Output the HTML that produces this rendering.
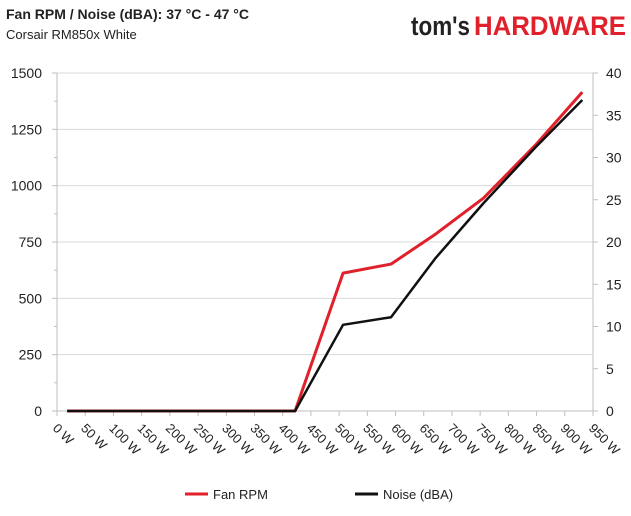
<!DOCTYPE html>
<html><head><meta charset="utf-8"><style>
body{margin:0;background:#fff;font-family:"Liberation Sans",sans-serif}
svg text{font-family:"Liberation Sans",sans-serif}
</style></head><body>
<svg id="c" width="631" height="511" xmlns="http://www.w3.org/2000/svg">
<text x="6" y="19" font-size="14" font-weight="bold" fill="#222">Fan RPM / Noise (dBA): 37 °C - 47 °C</text>
<text x="6" y="39" font-size="13" fill="#222">Corsair RM850x White</text>
<g><text x="411" y="35" font-size="27" font-weight="bold" fill="#222" textLength="59" lengthAdjust="spacingAndGlyphs">tom's</text><text x="474" y="35" font-size="27" font-weight="bold" fill="#e0202a" textLength="152" lengthAdjust="spacingAndGlyphs">HARDWARE</text></g>
<g id="grid"></g><g id="axes"></g><g id="series"></g>
<g>
<line x1="185" y1="494" x2="208" y2="494" stroke="#e0202a" stroke-width="3"/>
<text x="213" y="499" font-size="13" fill="#222">Fan RPM</text>
<line x1="355" y1="494" x2="378" y2="494" stroke="#111" stroke-width="3"/>
<text x="383" y="499" font-size="13" fill="#222">Noise (dBA)</text>
</g>
</svg>
<script>
const xTicks=[0,50,100,150,200,250,300,350,400,450,500,550,600,650,700,750,800,850,900,950];
const leftTicks=[0,250,500,750,1000,1250,1500];
const rightTicks=[0,5,10,15,20,25,30,35,40];
const loads=[18,422,507,592,671,756,848,931];
const fanRpm=[0,0,612,652,785,945,1180,1415];
const noise=[0,0,10.2,11.1,18.1,24.6,31.2,36.8];
const L=57,R=593,T=73,B=411;
const x=v=>L+(v/950)*(R-L);
const yl=v=>B-(v/1500)*(B-T);
const yr=v=>B-(v/40)*(B-T);
const NS="http://www.w3.org/2000/svg";
function mk(tag,attrs,parent){const e=document.createElementNS(NS,tag);for(const k in attrs)e.setAttribute(k,attrs[k]);document.getElementById(parent).appendChild(e);return e;}
leftTicks.forEach(v=>{
 if(v>0){const g=mk('line',{x1:L,x2:R,y1:yl(v),y2:yl(v),stroke:'#d9d9d9','stroke-width':1},'grid');
 
 }
 const t=mk('text',{x:L-15,y:yl(v)+5,'font-size':14,'text-anchor':'end',fill:'#222'},'axes');t.textContent=v;
 
 
 mk('line',{x1:L-5,x2:L,y1:yl(v),y2:yl(v),stroke:'#bfbfbf'},'axes');
 if(v<1500)mk('line',{x1:L-3,x2:L,y1:yl(v+125),y2:yl(v+125),stroke:'#bfbfbf'},'axes');
});
rightTicks.forEach(v=>{
 const t=mk('text',{x:R+13,y:yr(v)+5,'font-size':14,fill:'#222'},'axes');t.textContent=v;
 
 
 mk('line',{x1:R,x2:R+5,y1:yr(v),y2:yr(v),stroke:'#bfbfbf'},'axes');
});
mk('line',{x1:L,x2:L,y1:T,y2:B,stroke:'#bfbfbf'},'axes');
mk('line',{x1:R,x2:R,y1:T,y2:B,stroke:'#bfbfbf'},'axes');
mk('line',{x1:L,x2:R,y1:B,y2:B,stroke:'#bfbfbf'},'axes');
xTicks.forEach(v=>{
 mk('line',{x1:x(v),x2:x(v),y1:B,y2:B+5,stroke:'#bfbfbf'},'axes');
 const t=mk('text',{x:0,y:0,'font-size':13,fill:'#222',transform:`translate(${x(v)-5},${B+18}) rotate(45)`},'axes');t.textContent=v+' W';
 
 
});
const p1=mk('polyline',{points:loads.map((l,i)=>x(l)+','+yl(fanRpm[i])).join(' '),fill:'none',stroke:'#e0202a','stroke-width':3,'stroke-linejoin':'round'},'series');


const p2=mk('polyline',{points:loads.map((l,i)=>x(l)+','+yr(noise[i])).join(' '),fill:'none',stroke:'#111','stroke-width':2.5,'stroke-linejoin':'round'},'series');


</script>
</body></html>
